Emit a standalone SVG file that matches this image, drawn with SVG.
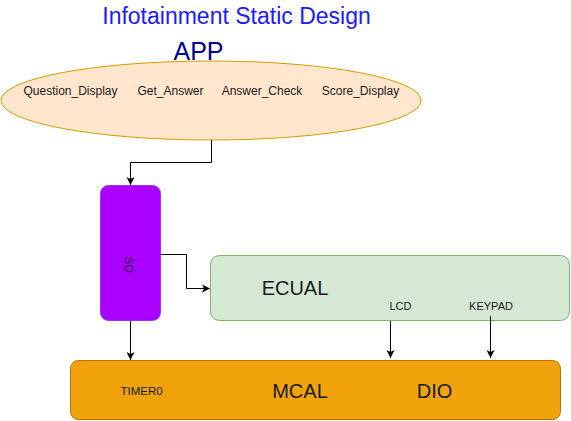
<svg xmlns="http://www.w3.org/2000/svg" width="571" height="421" viewBox="0 0 571 421">
<defs>
<marker id="arr" markerWidth="10" markerHeight="10" refX="8" refY="5" orient="auto" markerUnits="userSpaceOnUse">
<path d="M0,1 L8,5 L0,9 L2,5 Z" fill="#000"/>
</marker>
</defs>
<style>
text{font-family:"Liberation Sans",Arial,sans-serif;fill:#1a1a1a}
.sm{font-size:11px}
.md{font-size:12px}
.lg{font-size:20px}
.con{fill:none;stroke:#000;stroke-width:1;marker-end:url(#arr)}
</style>
<rect width="571" height="421" fill="#fff"/>
<text x="236.5" y="24" text-anchor="middle" style="font-size:23px;fill:#1a1aff">Infotainment Static Design</text>
<text x="198.5" y="60" text-anchor="middle" style="font-size:25px;fill:#000099">APP</text>
<g id="app">
<ellipse cx="211" cy="100.5" rx="210" ry="39.5" fill="#ffe6cc" stroke="#d79b00"/>
<text class="md" x="70.5" y="95" text-anchor="middle">Question_Display</text>
<text class="md" x="170.5" y="95" text-anchor="middle">Get_Answer</text>
<text class="md" x="262" y="95" text-anchor="middle">Answer_Check</text>
<text class="md" x="360.5" y="95" text-anchor="middle">Score_Display</text>
</g>
<g id="so">
<rect x="100.5" y="185.5" width="60" height="135" rx="8" fill="#aa00ff" stroke="#9933ff"/>
<text class="sm" transform="translate(124.5,265) rotate(90)" text-anchor="middle">SO</text>
</g>
<g id="ecual">
<rect x="210.5" y="255.5" width="359" height="65" rx="9" fill="#d5e8d4" stroke="#82b366"/>
<text class="lg" x="295" y="295" text-anchor="middle">ECUAL</text>
<text class="sm" x="400.5" y="310" text-anchor="middle">LCD</text>
<text class="sm" x="491" y="310" text-anchor="middle">KEYPAD</text>
</g>
<g id="mcal">
<rect x="70.5" y="360.5" width="490" height="59" rx="8" fill="#f0a30a" stroke="#bd7000"/>
<text class="lg" x="300" y="398" text-anchor="middle">MCAL</text>
<text class="lg" x="434.5" y="398" text-anchor="middle">DIO</text>
<text x="141.5" y="395" text-anchor="middle" style="font-size:11.5px">TIMER0</text>
</g>
<g id="connectors">
<path class="con" d="M211.5,140 V162.5 H130.5 V185"/>
<path class="con" d="M160,254.5 H186.5 V288.5 H210"/>
<path class="con" d="M130.5,321 V360"/>
<path class="con" d="M390.5,321 V358"/>
<path class="con" d="M490.5,316 V358"/>
</g>
</svg>
